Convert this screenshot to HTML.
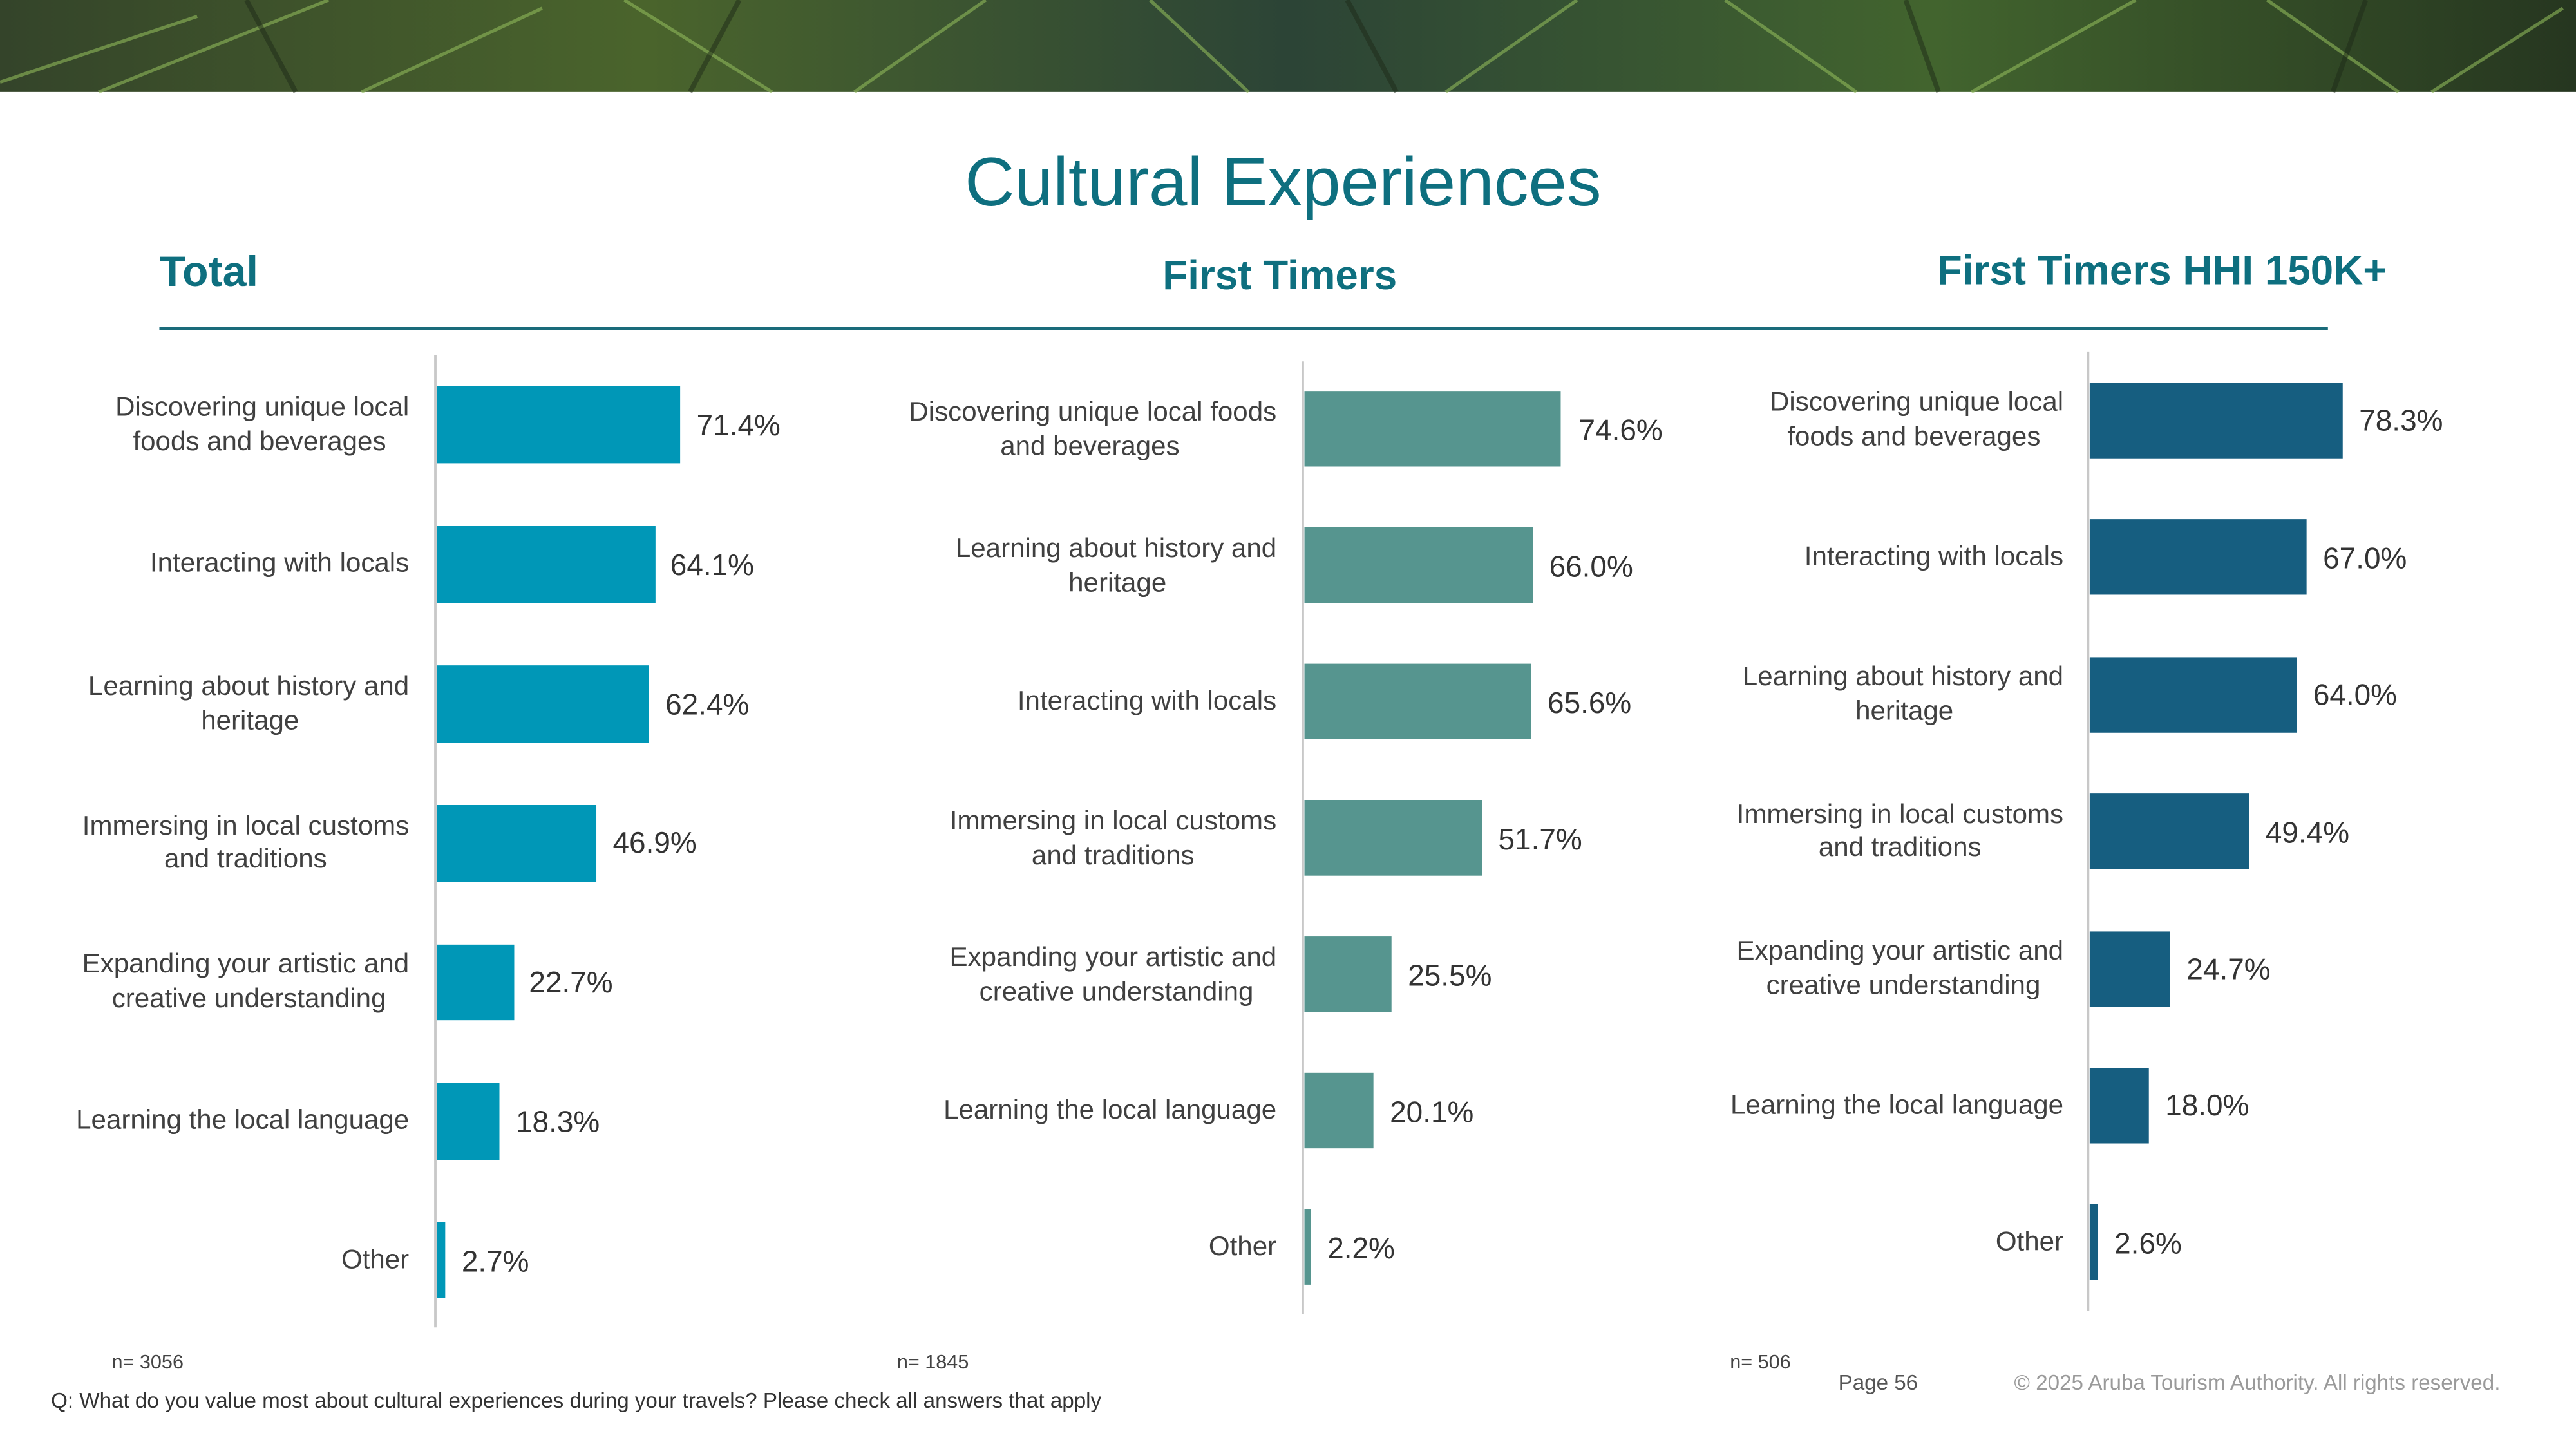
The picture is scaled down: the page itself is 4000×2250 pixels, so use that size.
<!DOCTYPE html>
<html><head><meta charset="utf-8"><style>
html,body{margin:0;padding:0;background:#fff;}
svg{display:block;}
text{font-family:"Liberation Sans",sans-serif;}
</style></head><body>
<svg width="4000" height="2250" viewBox="0 0 1568 882" preserveAspectRatio="none" xmlns="http://www.w3.org/2000/svg">
<defs>
<linearGradient id="bg" x1="0" y1="0" x2="1" y2="0">
<stop offset="0" stop-color="#34442a"/><stop offset="0.25" stop-color="#4a642c"/><stop offset="0.5" stop-color="#2c4436"/><stop offset="0.75" stop-color="#42642e"/><stop offset="1" stop-color="#263620"/>
</linearGradient>
</defs>
<rect x="0" y="0" width="1568" height="56" fill="url(#bg)"/>
<g stroke="#8fb85a" stroke-width="2" opacity="0.6">
<line x1="0" y1="50" x2="120" y2="10"/><line x1="60" y1="56" x2="200" y2="0"/><line x1="220" y1="56" x2="330" y2="5"/>
<line x1="380" y1="0" x2="470" y2="56"/><line x1="520" y1="56" x2="600" y2="0"/><line x1="700" y1="0" x2="760" y2="56"/>
<line x1="880" y1="56" x2="960" y2="0"/><line x1="1050" y1="0" x2="1130" y2="56"/><line x1="1200" y1="56" x2="1300" y2="0"/>
<line x1="1380" y1="0" x2="1460" y2="56"/><line x1="1480" y1="56" x2="1560" y2="5"/>
</g>
<g stroke="#1e2a18" stroke-width="3" opacity="0.5">
<line x1="150" y1="0" x2="180" y2="56"/><line x1="420" y1="56" x2="450" y2="0"/><line x1="820" y1="0" x2="850" y2="56"/><line x1="1160" y1="0" x2="1180" y2="56"/><line x1="1420" y1="56" x2="1440" y2="0"/>
</g>

<text x="781" y="125" text-anchor="middle" font-size="42" fill="#0e6f7f">Cultural Experiences</text>
<text x="97" y="174" font-size="26" font-weight="bold" fill="#0e6f7f">Total</text>
<text x="779" y="176" text-anchor="middle" font-size="25" font-weight="bold" fill="#0e6f7f">First Timers</text>
<text x="1316" y="173" text-anchor="middle" font-size="25" font-weight="bold" fill="#0e6f7f">First Timers HHI 150K+</text>
<line x1="97" y1="200" x2="1417" y2="200" stroke="#1a6b7a" stroke-width="2"/>

<g font-size="16.5" fill="#404040" text-anchor="end">
<text x="249" y="253">Discovering unique local</text><text x="235" y="274">foods and beverages</text>
<text x="249" y="348">Interacting with locals</text>
<text x="249" y="423">Learning about history and</text><text x="182" y="444">heritage</text>
<text x="249" y="508">Immersing in local customs</text><text x="199" y="528">and traditions</text>
<text x="249" y="592">Expanding your artistic and</text><text x="235" y="613">creative understanding</text>
<text x="249" y="687">Learning the local language</text>
<text x="249" y="772">Other</text>
<text x="777" y="256">Discovering unique local foods</text><text x="718" y="277">and beverages</text>
<text x="777" y="339">Learning about history and</text><text x="710" y="360">heritage</text>
<text x="777" y="432">Interacting with locals</text>
<text x="777" y="505">Immersing in local customs</text><text x="727" y="526">and traditions</text>
<text x="777" y="588">Expanding your artistic and</text><text x="763" y="609">creative understanding</text>
<text x="777" y="681">Learning the local language</text>
<text x="777" y="764">Other</text>
<text x="1256" y="250">Discovering unique local</text><text x="1242" y="271">foods and beverages</text>
<text x="1256" y="344">Interacting with locals</text>
<text x="1256" y="417">Learning about history and</text><text x="1189" y="438">heritage</text>
<text x="1256" y="501">Immersing in local customs</text><text x="1206" y="521">and traditions</text>
<text x="1256" y="584">Expanding your artistic and</text><text x="1242" y="605">creative understanding</text>
<text x="1256" y="678">Learning the local language</text>
<text x="1256" y="761">Other</text>
</g>

<line x1="265" y1="216" x2="265" y2="808" stroke="#c8c8c8" stroke-width="1.5"/>
<line x1="793" y1="220" x2="793" y2="800" stroke="#c8c8c8" stroke-width="1.5"/>
<line x1="1271" y1="214" x2="1271" y2="798" stroke="#c8c8c8" stroke-width="1.5"/>

<g fill="#0097b7">
<rect x="266" y="235" width="148" height="47"/><rect x="266" y="320" width="133" height="47"/>
<rect x="266" y="405" width="129" height="47"/><rect x="266" y="490" width="97" height="47"/>
<rect x="266" y="575" width="47" height="46"/><rect x="266" y="659" width="38" height="47"/>
<rect x="266" y="744" width="5" height="46"/>
</g>
<g fill="#56958f">
<rect x="794" y="238" width="156" height="46"/><rect x="794" y="321" width="139" height="46"/>
<rect x="794" y="404" width="138" height="46"/><rect x="794" y="487" width="108" height="46"/>
<rect x="794" y="570" width="53" height="46"/><rect x="794" y="653" width="42" height="46"/>
<rect x="794" y="736" width="4" height="46"/>
</g>
<g fill="#165e80">
<rect x="1272" y="233" width="154" height="46"/><rect x="1272" y="316" width="132" height="46"/>
<rect x="1272" y="400" width="126" height="46"/><rect x="1272" y="483" width="97" height="46"/>
<rect x="1272" y="567" width="49" height="46"/><rect x="1272" y="650" width="36" height="46"/>
<rect x="1272" y="733" width="5" height="46"/>
</g>

<g font-size="18" fill="#333">
<text x="424" y="265">71.4%</text><text x="408" y="350">64.1%</text><text x="405" y="435">62.4%</text>
<text x="373" y="519">46.9%</text><text x="322" y="604">22.7%</text><text x="314" y="689">18.3%</text><text x="281" y="774">2.7%</text>
<text x="961" y="268">74.6%</text><text x="943" y="351">66.0%</text><text x="942" y="434">65.6%</text>
<text x="912" y="517">51.7%</text><text x="857" y="600">25.5%</text><text x="846" y="683">20.1%</text><text x="808" y="766">2.2%</text>
<text x="1436" y="262">78.3%</text><text x="1414" y="346">67.0%</text><text x="1408" y="429">64.0%</text>
<text x="1379" y="513">49.4%</text><text x="1331" y="596">24.7%</text><text x="1318" y="679">18.0%</text><text x="1287" y="763">2.6%</text>
</g>

<g font-size="12" fill="#444">
<text x="68" y="833">n= 3056</text><text x="546" y="833">n= 1845</text><text x="1053" y="833">n= 506</text>
</g>
<text x="31" y="857" font-size="13" fill="#333">Q: What do you value most about cultural experiences during your travels? Please check all answers that apply</text>
<text x="1119" y="846" font-size="13" fill="#555">Page 56</text>
<text x="1226" y="846" font-size="13" fill="#9a9a9a">© 2025 Aruba Tourism Authority. All rights reserved.</text>
</svg>
</body></html>
